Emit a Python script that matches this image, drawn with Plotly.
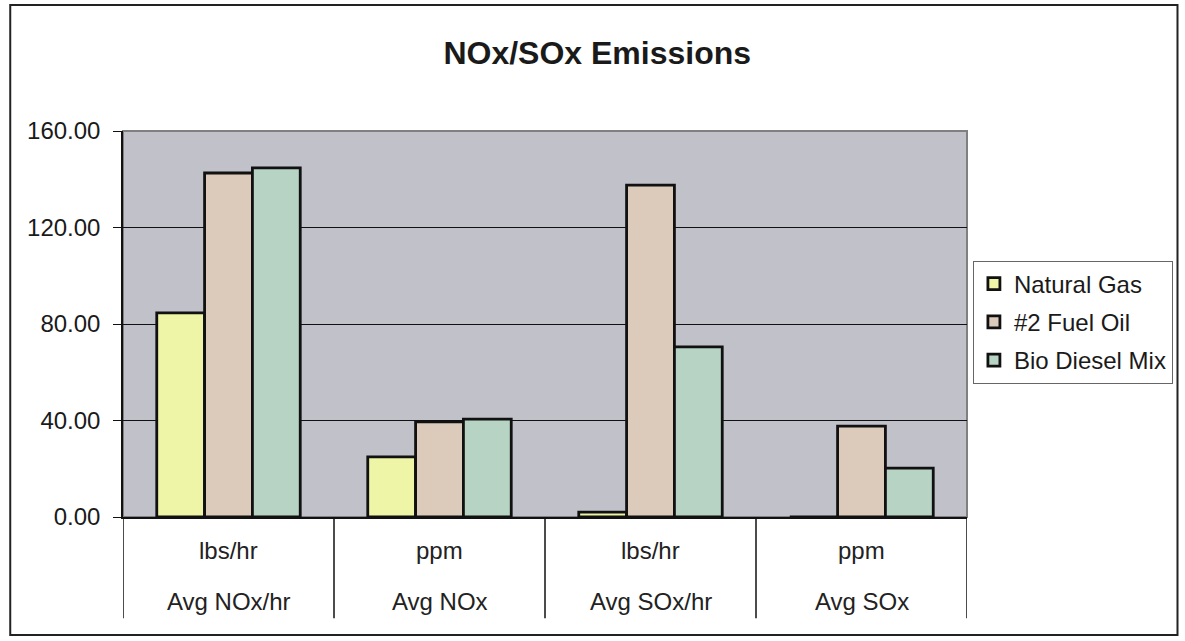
import plotly.graph_objects as go

measures = ["Avg NOx/hr", "Avg NOx", "Avg SOx/hr", "Avg SOx"]
units = ["lbs/hr", "ppm", "lbs/hr", "ppm"]
natural_gas = [84.6, 24.9, 2.0, 0.0]
fuel_oil = [142.6, 39.4, 137.6, 37.7]
bio_diesel = [144.7, 40.6, 70.5, 20.3]
y_ticks = [0, 40, 80, 120, 160]

series = [
    ("Natural Gas", natural_gas, "#EEF5A6"),
    ("#2 Fuel Oil", fuel_oil, "#DCCBBA"),
    ("Bio Diesel Mix", bio_diesel, "#B6D3C3"),
]

FONT = "Liberation Sans, Arial, sans-serif"
fig = go.Figure()
for i, (name, vals, col) in enumerate(series):
    fig.add_trace(go.Bar(
        x=measures, y=vals, name=name, legendgroup=f"g{i}",
        marker=dict(color=col, line=dict(color="#111111", width=2.8)),
    ))

fig.update_layout(
    width=1185, height=641,
    margin=dict(l=123, r=216, t=131, b=124),
    paper_bgcolor="white",
    plot_bgcolor="#C0C1C9",
    barmode="group", bargap=0.32, bargroupgap=0,
    font=dict(family=FONT, color="#1a1a1a", size=24),
    title=dict(text="<b>NOx/SOx Emissions</b>", x=0.504, xanchor="center",
               y=0.918, yanchor="middle", font=dict(size=32, color="#1a1a1a")),
    showlegend=True,
    legend=dict(x=1.007, y=0.505, xanchor="left", yanchor="middle",
                bordercolor="#666666", borderwidth=1, tracegroupgap=4,
                font=dict(size=24, color="#1a1a1a"), bgcolor="white"),
)
fig.update_yaxes(
    range=[0, 160], tickvals=y_ticks, tickformat=".2f",
    showgrid=True, gridcolor="#111111", gridwidth=1.3,
    showline=True, linecolor="#111111", linewidth=1.5,
    ticks="outside", ticklen=8, tickcolor="#111111", ticklabelstandoff=8,
    tickfont=dict(size=24, color="#1a1a1a"), zeroline=False,
)
fig.update_xaxes(
    type="category", range=[-0.5, len(measures) - 0.5],
    showline=True, linecolor="#111111", linewidth=2,
    showticklabels=False, ticks="",
)

# category labels (two rows) and dividers below the axis
for i, (m, u) in enumerate(zip(measures, units)):
    fig.add_annotation(x=m, y=-0.088, xref="x", yref="paper", text=u,
                       showarrow=False, yanchor="middle",
                       font=dict(size=24, color="#222222"))
    fig.add_annotation(x=m, y=-0.218, xref="x", yref="paper", text=m,
                       showarrow=False, yanchor="middle",
                       font=dict(size=24, color="#222222"))
for k in range(len(measures) + 1):
    fig.add_shape(type="line", xref="x", yref="paper", x0=k - 0.5, x1=k - 0.5,
                  y0=-0.262, y1=0, line=dict(color="#111111", width=1.5))

# plot-area border (gray) and outer chart frame
fig.add_shape(type="rect", xref="paper", yref="paper", x0=0, x1=1, y0=0, y1=1,
              line=dict(color="#808080", width=2), layer="below")
fig.add_shape(type="rect", xref="paper", yref="paper", x0=-0.1336, x1=1.2494,
              y0=-0.3057, y1=1.3264, line=dict(color="#222222", width=2))

fig.write_html("out.html", config={"displayModeBar": False},
               post_script="document.body.style.margin='0';")
